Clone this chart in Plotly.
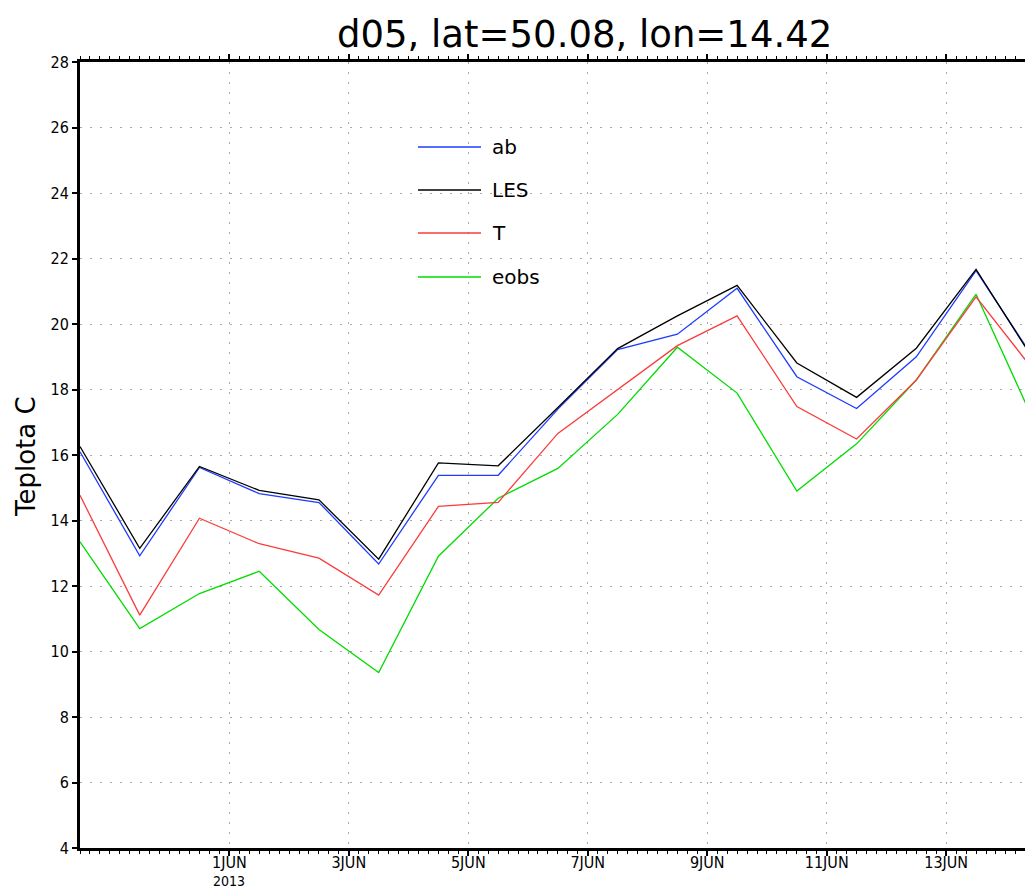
import plotly.graph_objects as go
import pandas as pd

# Daily 12 UTC values, 29 May - 14 June 2013
times = pd.date_range("2013-05-29 12:00", "2013-06-14 12:00", freq="D")

ab = [16.10, 12.92, 15.62, 14.82, 14.55, 12.67, 15.38, 15.38, 17.40,
      19.22, 19.69, 21.09, 18.39, 17.42, 19.00, 21.63, 18.85]
les = [16.26, 13.15, 15.65, 14.92, 14.63, 12.82, 15.76, 15.67, 17.45,
       19.25, 20.25, 21.18, 18.81, 17.76, 19.26, 21.67, 18.80]
t_run = [14.77, 11.11, 14.07, 13.29, 12.85, 11.72, 14.43, 14.55, 16.66,
         18.00, 19.34, 20.25, 17.48, 16.49, 18.29, 20.83, 18.50]
eobs = [13.35, 10.70, 11.77, 12.45, 10.67, 9.36, 12.91, 14.68, 15.59,
        17.24, 19.29, 17.89, 14.90, 16.34, 18.29, 20.91, 16.90]

series_names = ["ab", "LES", "T", "eobs"]
series_colors = ["rgb(30,60,255)", "rgb(0,0,0)", "rgb(250,60,60)", "rgb(0,220,0)"]
series_values = [ab, les, t_run, eobs]

x_tick_vals = ["2013-06-01", "2013-06-03", "2013-06-05", "2013-06-07",
               "2013-06-09", "2013-06-11", "2013-06-13"]
x_tick_text = ["1JUN", "3JUN", "5JUN", "7JUN", "9JUN", "11JUN", "13JUN"]
year_label = "2013"
y_tick_vals = list(range(4, 29, 2))

narrow = "Liberation Sans Narrow, DejaVu Sans Condensed, DejaVu Sans"

fig = go.Figure()
# draw order: eobs, T, ab, LES so the black line sits on top
for idx in [3, 2, 0, 1]:
    fig.add_trace(go.Scatter(
        x=times, y=series_values[idx], mode="lines", name=series_names[idx],
        line=dict(color=series_colors[idx], width=1.3), showlegend=False,
    ))

# hand-placed legend block inside the plot area
L, R, T, B = 80, 1025, 62, 848
W, H = R - L, B - T
def px(xp):
    return (xp - L) / W
def py(yp):
    return (B - yp) / H

legend_rows = [147, 190, 233, 277]
for name, color, yrow in zip(series_names, series_colors, legend_rows):
    fig.add_shape(type="line", xref="paper", yref="paper",
                  x0=px(418), x1=px(481), y0=py(yrow), y1=py(yrow),
                  line=dict(color=color, width=1.3))
    fig.add_annotation(xref="paper", yref="paper", x=px(490), y=py(yrow),
                       text=name, showarrow=False, xanchor="left", yanchor="middle",
                       font=dict(family="DejaVu Sans", size=20, color="black"))

fig.add_annotation(xref="paper", yref="paper", x=px(584), y=py(34),
                   text="d05, lat=50.08, lon=14.42", showarrow=False,
                   xanchor="center", yanchor="middle",
                   font=dict(family="DejaVu Sans", size=37, color="black"))

# vertical axis title
fig.add_annotation(xref="paper", yref="paper", x=px(26), y=py(457),
                   text="Teplota C", showarrow=False, textangle=-90,
                   xanchor="center", yanchor="middle",
                   font=dict(family="DejaVu Sans", size=26, color="black"))

# year under the first date label
fig.add_annotation(xref="x", yref="paper", x=x_tick_vals[0], y=py(881),
                   text=year_label, showarrow=False,
                   xanchor="center", yanchor="middle",
                   font=dict(family=narrow, size=14, color="black"))

grid_dash = "2px,8px"
fig.update_layout(
    width=1025, height=889,
    margin=dict(l=L, r=0, t=T, b=889 - B),
    paper_bgcolor="white", plot_bgcolor="white",
    xaxis=dict(
        range=["2013-05-29 12:00", "2013-06-14 07:40"],
        tickvals=x_tick_vals, ticktext=x_tick_text,
        tickfont=dict(family=narrow, size=16, color="black"),
        showline=True, linecolor="black", linewidth=2.5, mirror="ticks",
        ticks="outside", ticklen=5, tickwidth=1.5, tickcolor="black",
        ticklabelstandoff=-7,
        showgrid=True, gridcolor="#a8a8a8", gridwidth=1, griddash=grid_dash,
        minor=dict(dtick=4 * 3600 * 1000, tick0="2013-06-01", ticks="outside",
                   ticklen=3, tickwidth=1.2, tickcolor="black", showgrid=False),
        zeroline=False, automargin=False,
    ),
    yaxis=dict(
        range=[4, 28], tickvals=y_tick_vals,
        tickfont=dict(family=narrow, size=16, color="black"),
        showline=True, linecolor="black", linewidth=3,
        ticks="outside", ticklen=5, tickwidth=1.5, tickcolor="black",
        showgrid=True, gridcolor="#a8a8a8", gridwidth=1, griddash=grid_dash,
        zeroline=False, automargin=False,
    ),
)

fig.write_html("out.html")
